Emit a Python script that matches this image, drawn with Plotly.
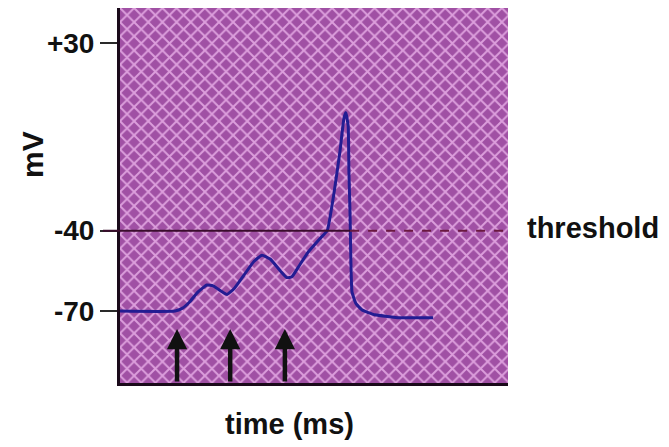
import plotly.graph_objects as go

# ---- data ----
time_ms = [0, 14.2, 16.0, 18.0, 20.0, 22.4, 24.0, 26.0, 27.6, 29.5, 32.0, 34.5, 36.6,
           38.7, 41.2, 43.0, 44.3, 46.0, 48.5, 51.5, 53.4, 55.2, 56.7, 57.7, 58.2,
           58.8, 59.0, 59.3, 59.5, 59.8, 60.8, 62.4, 65.7, 72.2, 80.7]
membrane_mv = [-70, -70, -69.0, -66.5, -63.0, -60.3, -60.6, -62.5, -63.8, -61.5, -56.5, -51.5, -49.2,
               -50.6, -54.8, -57.5, -57.2, -53.5, -48.0, -43.0, -40.0, -25.5, -10.3, 1.8, 4.1,
               -0.8, -17.9, -34.3, -51.3, -62.9, -67.2, -69.6, -71.4, -72.5, -72.5]
stimulus_times = [14.7, 28.4, 42.5]
threshold_mv = -40
tick_vals = [30, -40, -70]
tick_text = ["+30", "-40", "-70"]
x_range = [0, 100]
y_range = [-96.85, 43.1]

fig = go.Figure()

# patterned background
fig.add_trace(go.Scatter(
    x=[x_range[0], x_range[1], x_range[1], x_range[0], x_range[0]],
    y=[y_range[0], y_range[0], y_range[1], y_range[1], y_range[0]],
    mode="lines", line=dict(width=0), fill="toself",
    fillpattern=dict(shape="x", bgcolor="#a050a4", fgcolor="#dc9edc",
                     size=10, solidity=0.35, fillmode="replace"),
    hoverinfo="skip", showlegend=False))

# threshold line
fig.add_shape(type="line", xref="paper", yref="y", x0=-0.044, x1=59.3 / 100,
              y0=threshold_mv, y1=threshold_mv, line=dict(color="#3a0c2c", width=2))
fig.add_shape(type="line", xref="paper", yref="y", x0=59.3 / 100, x1=1,
              y0=threshold_mv, y1=threshold_mv,
              line=dict(color="#6a1840", width=2, dash="dash"))

# membrane potential trace
fig.add_trace(go.Scatter(
    x=time_ms, y=membrane_mv, mode="lines",
    line=dict(color="#231c92", width=3, shape="spline", smoothing=0.4),
    hoverinfo="skip", showlegend=False))

# stimulus arrows
for t in stimulus_times:
    fig.add_annotation(x=t, y=-76.7, ax=t, ay=y_range[0], xref="x", yref="y",
                       axref="x", ayref="y", showarrow=True, arrowhead=2,
                       arrowsize=0.9, arrowwidth=4.5, arrowcolor="#111111", text="")

bold = dict(family="Liberation Sans, Arial, sans-serif", color="#111111", weight="bold")

fig.add_annotation(text="threshold", xref="paper", yref="y", x=1.044, y=threshold_mv,
                   xanchor="left", yanchor="middle", showarrow=False, yshift=3,
                   font=dict(size=29, **bold))
fig.add_annotation(text="time (ms)", xref="paper", yref="paper", x=0.4356, y=-0.11,
                   xanchor="center", yanchor="middle", showarrow=False,
                   font=dict(size=29, **bold))
fig.add_annotation(text="mV", xref="paper", yref="paper", x=-0.225, y=0.61,
                   xanchor="center", yanchor="middle", showarrow=False, textangle=-90,
                   font=dict(size=30, **bold))

fig.update_xaxes(range=x_range, showgrid=False, zeroline=False, showticklabels=False,
                 showline=True, linecolor="#1a0a1a", linewidth=3, ticks="")
fig.update_yaxes(range=y_range, showgrid=False, zeroline=False,
                 tickvals=tick_vals, ticktext=tick_text, ticks="outside", ticklen=17,
                 tickwidth=2, tickcolor="#2a2a2a", tickfont=dict(size=28, **bold),
                 showline=True, linecolor="#1a0a1a", linewidth=3)

fig.update_layout(width=669, height=447, margin=dict(l=112, r=169, t=0, b=72),
                  paper_bgcolor="white", plot_bgcolor="white")

fig.write_html("out.html")
